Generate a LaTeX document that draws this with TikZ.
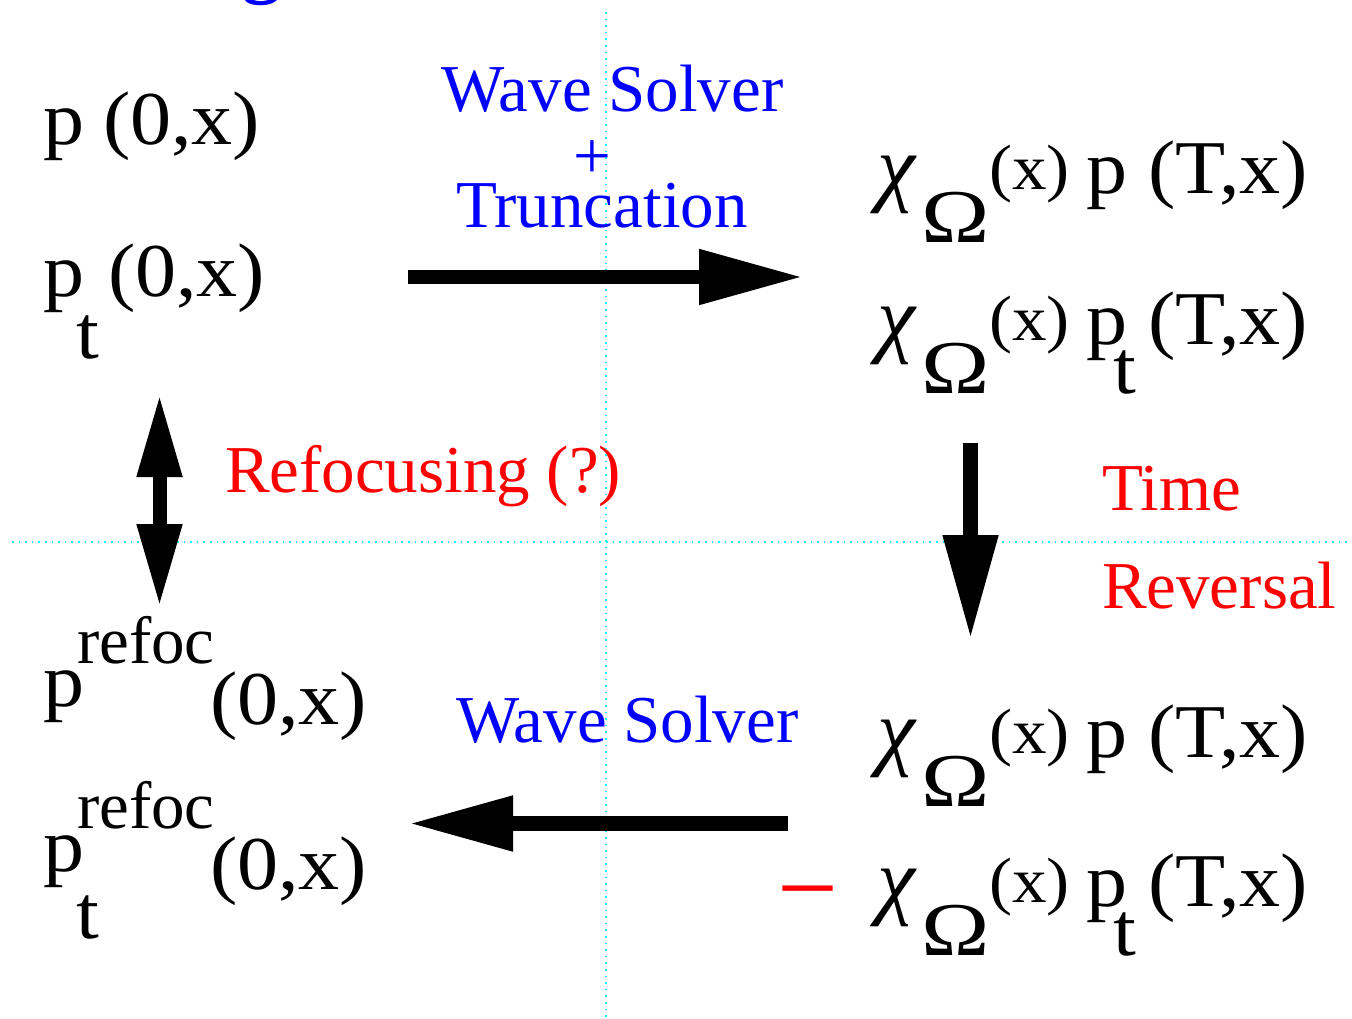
\documentclass[tikz,border=0pt]{standalone}
\usepackage{fontspec}
\setmainfont{Liberation Serif}
\newfontfamily\wfont[FakeStretch=1.08]{Liberation Serif}
\usetikzlibrary{arrows.meta}
\definecolor{fblue}{RGB}{0,0,255}
\definecolor{fred}{RGB}{255,0,0}
\definecolor{fcyan}{RGB}{0,255,255}
\newcommand\bigtxt{\wfont\fontsize{76}{80}\selectfont}
\newcommand\midtxt{\fontsize{67}{72}\selectfont}
\newcommand\suptxt{\wfont\fontsize{64}{70}\selectfont}
\newcommand\chitxt{\itshape\fontsize{86}{90}\selectfont}
\begin{document}
\begin{tikzpicture}[x=1pt,y=-1pt,
  txt/.style={inner sep=0pt, outer sep=0pt, anchor=base west},
  big/.style={txt, font=\bigtxt},
  sup/.style={txt, font=\suptxt},
  lbl/.style={txt, font=\midtxt},
  guide/.style={fcyan, line width=1.6pt, dash pattern=on 1.6pt off 5pt},
  fatarrow/.style={line width=14.5pt, -{Triangle[length=104pt,width=52pt]}},
  twoway/.style={line width=14pt, {Triangle[length=83pt,width=42pt]}-{Triangle[length=83pt,width=42pt]}},
]
\useasboundingbox (0,0) rectangle (1352,1019);
\clip (0,0) rectangle (1352,1019);
\fill[white] (0,0) rectangle (1352,1019);

% guide lines
\coordinate (gv1) at (606,12); \coordinate (gv2) at (606,1019);
\coordinate (gh1) at (12,542); \coordinate (gh2) at (1352,542);
\draw[guide] (gv1) -- (gv2);
\draw[guide] (gh1) -- (gh2);

% cropped title fragment
\node[txt, text=fblue, font=\bfseries\fontsize{78}{80}\selectfont] (ttlg) at (242,-11) {g};

% top-left
\node[big] (tla) at (43,145) {p};
\node[big] (tlb) at (103,145) {(0,x)};
\node[big] (tlc) at (43,296) {p};
\node[big] (tld) at (76,358) {t};
\node[big] (tle) at (108,296) {(0,x)};

% bottom-left
\node[big] (bla) at (43,706) {p};
\node[lbl] (blb) at (77,663) {refoc};
\node[big] (blc) at (210,724) {(0,x)};
\node[big] (bld) at (43,871) {p};
\node[lbl] (ble) at (77,828) {refoc};
\node[big] (blf) at (76,938) {t};
\node[big] (blg) at (210,889) {(0,x)};

% right-hand expressions
\foreach \o/\n in {0/a,150/b,563/c,712/d}{
  \node[txt, font=\chitxt] (chi\n) at (877,196+\o) {χ};
  \node[big] (om\n) at (921,243+\o) {\scalebox{1.12}[1]{Ω}};
  \node[sup] (sx\n) at (989,190+\o) {(x)};
  \node[big] (rp\n) at (1086,194+\o) {p};
  \node[big] (tx\n) at (1148,194+\o) {(T,x)};
}
\node[big] (rtb) at (1113,393) {t};
\node[big] (rtd) at (1113,955) {t};
\node[txt, text=fred, font=\fontsize{108}{110}\selectfont] (minus) at (777,924) {−};

% labels
\node[lbl, text=fblue] (ws1) at (441,112) {Wave Solver};
\node[lbl, text=fblue, anchor=center] (plus) at (592,160) {+};
\node[lbl, text=fblue] (trunc) at (456,228) {Truncation};
\node[lbl, text=fblue] (ws2) at (456,742) {Wave Solver};
\node[lbl, text=fred] (refoc) at (225,492) {Refocusing (?)};
\node[lbl, text=fred] (time) at (1102,510) {Time};
\node[lbl, text=fred] (rev) at (1102,608) {Reversal};

% arrows
\coordinate (r1s) at (408,277); \coordinate (r1e) at (803,277);
\draw[fatarrow] (r1s) -- (r1e);
\coordinate (d1s) at (970.5,443); \coordinate (d1e) at (970.5,639);
\draw[fatarrow] (d1s) -- (d1e);
\coordinate (l1s) at (788,823.5); \coordinate (l1e) at (409,823.5);
\draw[fatarrow] (l1s) -- (l1e);
\coordinate (u1) at (159.5,394); \coordinate (u2) at (159.5,607);
\draw[twoway] (u1) -- (u2);
\end{tikzpicture}
\end{document}
